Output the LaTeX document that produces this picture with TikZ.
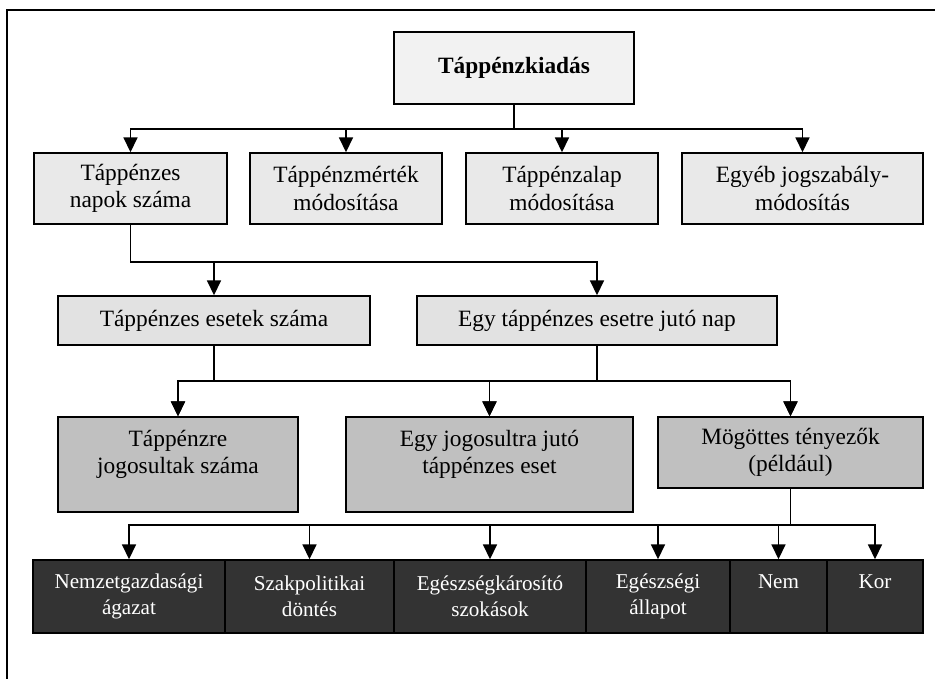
\documentclass[tikz,border=0pt]{standalone}
\usepackage{fontspec}
\setmainfont{Liberation Serif}
\usetikzlibrary{arrows.meta}
\definecolor{rootfill}{HTML}{F2F2F2}
\definecolor{lvlonefill}{HTML}{E9E9E9}
\definecolor{lvltwofill}{HTML}{E2E2E2}
\definecolor{lvlthreefill}{HTML}{C0C0C0}
\definecolor{leaffill}{HTML}{333333}
\newcommand{\lowpad}[1]{\rule[-#1]{0pt}{#1}}

\begin{document}
\begin{tikzpicture}[
    cell/.style={draw, line width=0.8pt, align=center, inner sep=2pt,
        font=\fontsize{13.3}{15.5}\selectfont},
    rootbox/.style={cell, fill=rootfill, minimum width=4.8cm, minimum height=1.44cm,
        font=\fontsize{13.3}{15.5}\selectfont\bfseries},
    lvlone/.style={cell, fill=lvlonefill, minimum height=1.42cm},
    lvltwo/.style={cell, fill=lvltwofill, minimum height=0.98cm},
    lvlthree/.style={cell, fill=lvlthreefill},
    leaf/.style={cell, fill=leaffill, text=white, minimum height=1.46cm,
        font=\fontsize{12}{14.8}\selectfont},
    arr/.style={-{Triangle[width=0.28cm,length=0.3cm]}, line width=1pt},
    pageframe/.style={line width=1.4pt}
]
    \useasboundingbox (0,0) rectangle (18.7,13.58);
    \draw[pageframe] (0.14,0) |- (18.7,13.38);

    \node[rootbox] (kiadas) at (10.28,12.22) {Táppénzkiadás};

    \foreach \n/\x/\w/\t in {napok/2.61/3.86/{Táppénzes\\napok száma},
                             merteke/6.92/3.84/{Táppénzmérték\\módosítása},
                             alap/11.24/3.84/{Táppénzalap\\módosítása},
                             egyeb/16.05/4.82/{Egyéb jogszabály-\\módosítás}} {
        \node[lvlone, minimum width=\w cm] (\n) at (\x,9.81) {\t};
        \draw[arr] (kiadas.south) -- ++(0,-0.48) -| (\n.north);
    }

    \node[lvltwo, minimum width=6.24cm] (esetek) at (4.28,7.17) {Táppénzes esetek száma};
    \node[lvltwo, minimum width=7.2cm] (jutonap) at (11.94,7.17) {Egy táppénzes esetre jutó nap};
    \draw[arr] (napok.south) -- ++(0,-0.74) -| (esetek.north);
    \draw[arr] (napok.south) -- ++(0,-0.74) -| (jutonap.north);

    \node[lvlthree, minimum width=4.8cm, minimum height=1.9cm] (jogosult) at (3.56,4.29) {Táppénzre\\jogosultak száma\lowpad{0.5cm}};
    \node[lvlthree, minimum width=5.74cm, minimum height=1.9cm] (jogeset) at (9.79,4.29) {Egy jogosultra jutó\\táppénzes eset\lowpad{0.5cm}};
    \node[lvlthree, minimum width=5.3cm, minimum height=1.42cm] (mogottes) at (15.81,4.53) {Mögöttes tényezők\\(például)};

    \foreach \p in {esetek,jutonap}
        \foreach \n in {jogosult,jogeset,mogottes}
            \draw[arr] (\p.south) -- ++(0,-0.7) -| (\n.north);

    \foreach \n/\x/\w/\t in {agazat/2.58/3.84/{Nemzetgazdasági\\ágazat},
                             dontes/6.19/3.38/{Szakpolitikai\\döntés},
                             szokas/9.8/3.84/{Egészségkárosító\\szokások},
                             allapot/13.16/2.88/{Egészségi\\állapot},
                             nem/15.57/1.94/{Nem\lowpad{0.6cm}},
                             kor/17.5/1.92/{Kor\lowpad{0.6cm}}} {
        \node[leaf, minimum width=\w cm] (\n) at (\x,1.65) {\t};
        \draw[arr] (mogottes.south) -- ++(0,-0.72) -| (\n.north);
    }

\end{tikzpicture}
\end{document}
